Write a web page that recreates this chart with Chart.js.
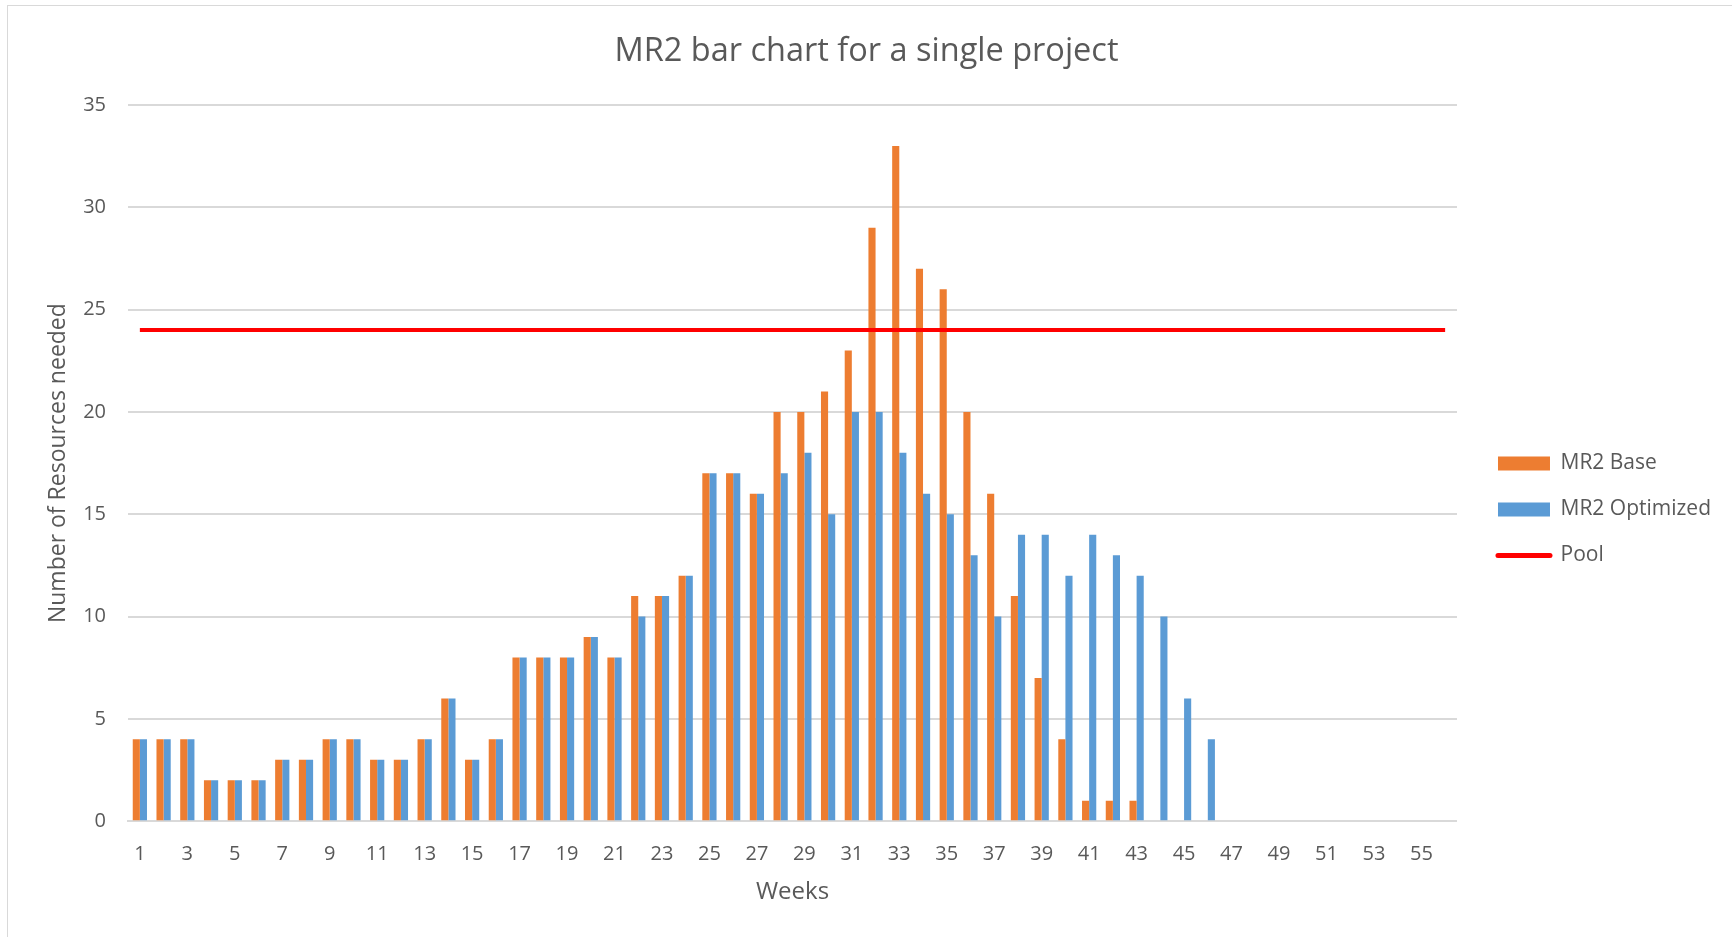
<!DOCTYPE html>
<html>
<head>
<meta charset="utf-8">
<script src="https://cdn.jsdelivr.net/npm/chart.js@4/dist/chart.umd.min.js"></script>
<style>
  html, body { margin: 0; padding: 0; background: #fff; overflow: hidden; }
  #box { position: absolute; left: 7px; top: 5px; width: 1740px; height: 950px; border: 1px solid #d9d9d9; }
  #chart { position: absolute; left: 0; top: 0; }
</style>
</head>
<body>
<div id="box"><canvas id="chart" width="1724" height="931"></canvas></div>
<script>
// date
const weeks = [];
for (let w = 1; w <= 56; w++) weeks.push(String(w));

const mr2Base = [4, 4, 4, 2, 2, 2, 3, 3, 4, 4, 3, 3, 4, 6, 3, 4, 8, 8, 8, 9, 8, 11, 11, 12, 17, 17, 16, 20, 20, 21,
  23, 29, 33, 27, 26, 20, 16, 11, 7, 4, 1, 1, 1, null, null, null];
const mr2Optimized = [4, 4, 4, 2, 2, 2, 3, 3, 4, 4, 3, 3, 4, 6, 3, 4, 8, 8, 8, 9, 8, 10, 11, 12, 17, 17, 16, 17, 18, 15,
  20, 20, 18, 16, 15, 13, 10, 14, 14, 12, 14, 13, 12, 10, 6, 4];
const poolLevel = 24;
const pool = weeks.map(() => poolLevel);

const grey = '#595959';
const fontFam = '"Open Sans", "Liberation Sans", sans-serif';

// muta legenda putin la dreapta si in jos, fara sa schimbe zona graficului
const legendShift = {
  id: 'legendShift',
  afterLayout(chart) {
    const lg = chart.legend;
    if (!lg) return;
    lg.left += 16; lg.right += 16;
    lg.top += 53; lg.bottom += 53;
  }
};

const ctx = document.getElementById('chart').getContext('2d');

new Chart(ctx, {
  type: 'bar',
  data: {
    labels: weeks,
    datasets: [
      {
        label: 'MR2 Base',
        data: mr2Base,
        backgroundColor: '#ED7D31',
        categoryPercentage: 0.6,
        barPercentage: 1.0,
        order: 1
      },
      {
        label: 'MR2 Optimized',
        data: mr2Optimized,
        backgroundColor: '#5B9BD5',
        categoryPercentage: 0.6,
        barPercentage: 1.0,
        order: 1
      },
      {
        type: 'line',
        label: 'Pool',
        data: pool,
        borderColor: '#FF0000',
        backgroundColor: '#FF0000',
        borderWidth: 4,
        pointRadius: 0,
        order: 0
      }
    ]
  },
  plugins: [legendShift],
  options: {
    responsive: false,
    animation: false,
    layout: { padding: { left: 20, right: 27, top: 0, bottom: 30 } },
    plugins: {
      title: {
        display: true,
        text: 'MR2 bar chart for a single project',
        color: grey,
        font: { family: fontFam, size: 32.5, weight: 'normal' },
        padding: { top: 26.5, bottom: 33.5 }
      },
      legend: {
        position: 'right',
        labels: {
          color: grey,
          font: { family: fontFam, size: 21 },
          boxWidth: 52,
          boxHeight: 14,
          padding: 25,
          usePointStyle: true,
          pointStyleWidth: 52,
          generateLabels: (chart) => {
            const items = Chart.defaults.plugins.legend.labels.generateLabels(chart);
            items.sort((a, b) => a.datasetIndex - b.datasetIndex);
            items.forEach(it => {
              it.pointStyle = it.datasetIndex === 2 ? 'line' : 'rect';
              it.lineWidth = it.datasetIndex === 2 ? 5 : 0;
              it.lineCap = 'round';
            });
            return items;
          }
        }
      },
      tooltip: { enabled: false }
    },
    scales: {
      x: {
        grid: { display: false, drawTicks: false },
        border: { display: true, color: '#d9d9d9', width: 2 },
        ticks: {
          color: grey,
          font: { family: fontFam, size: 20 },
          padding: 21,
          autoSkip: false,
          maxRotation: 0,
          callback: function (val, i) { return i % 2 === 0 ? this.getLabelForValue(val) : ''; }
        },
        title: {
          display: true,
          text: 'Weeks',
          color: grey,
          font: { family: fontFam, size: 24 },
          padding: { top: -9, bottom: 0 }
        }
      },
      y: {
        min: 0,
        max: 35,
        afterFit: (s) => { s.width = 100; },
        grid: { color: '#d9d9d9', lineWidth: 2, drawTicks: false },
        border: { display: false },
        ticks: {
          stepSize: 5,
          color: grey,
          font: { family: fontFam, size: 20 },
          padding: 22
        },
        title: {
          display: true,
          text: 'Number of Resources needed',
          color: grey,
          font: { family: fontFam, size: 23 },
          padding: { top: 17, bottom: 0 }
        }
      }
    }
  }
});
</script>
</body>
</html>
